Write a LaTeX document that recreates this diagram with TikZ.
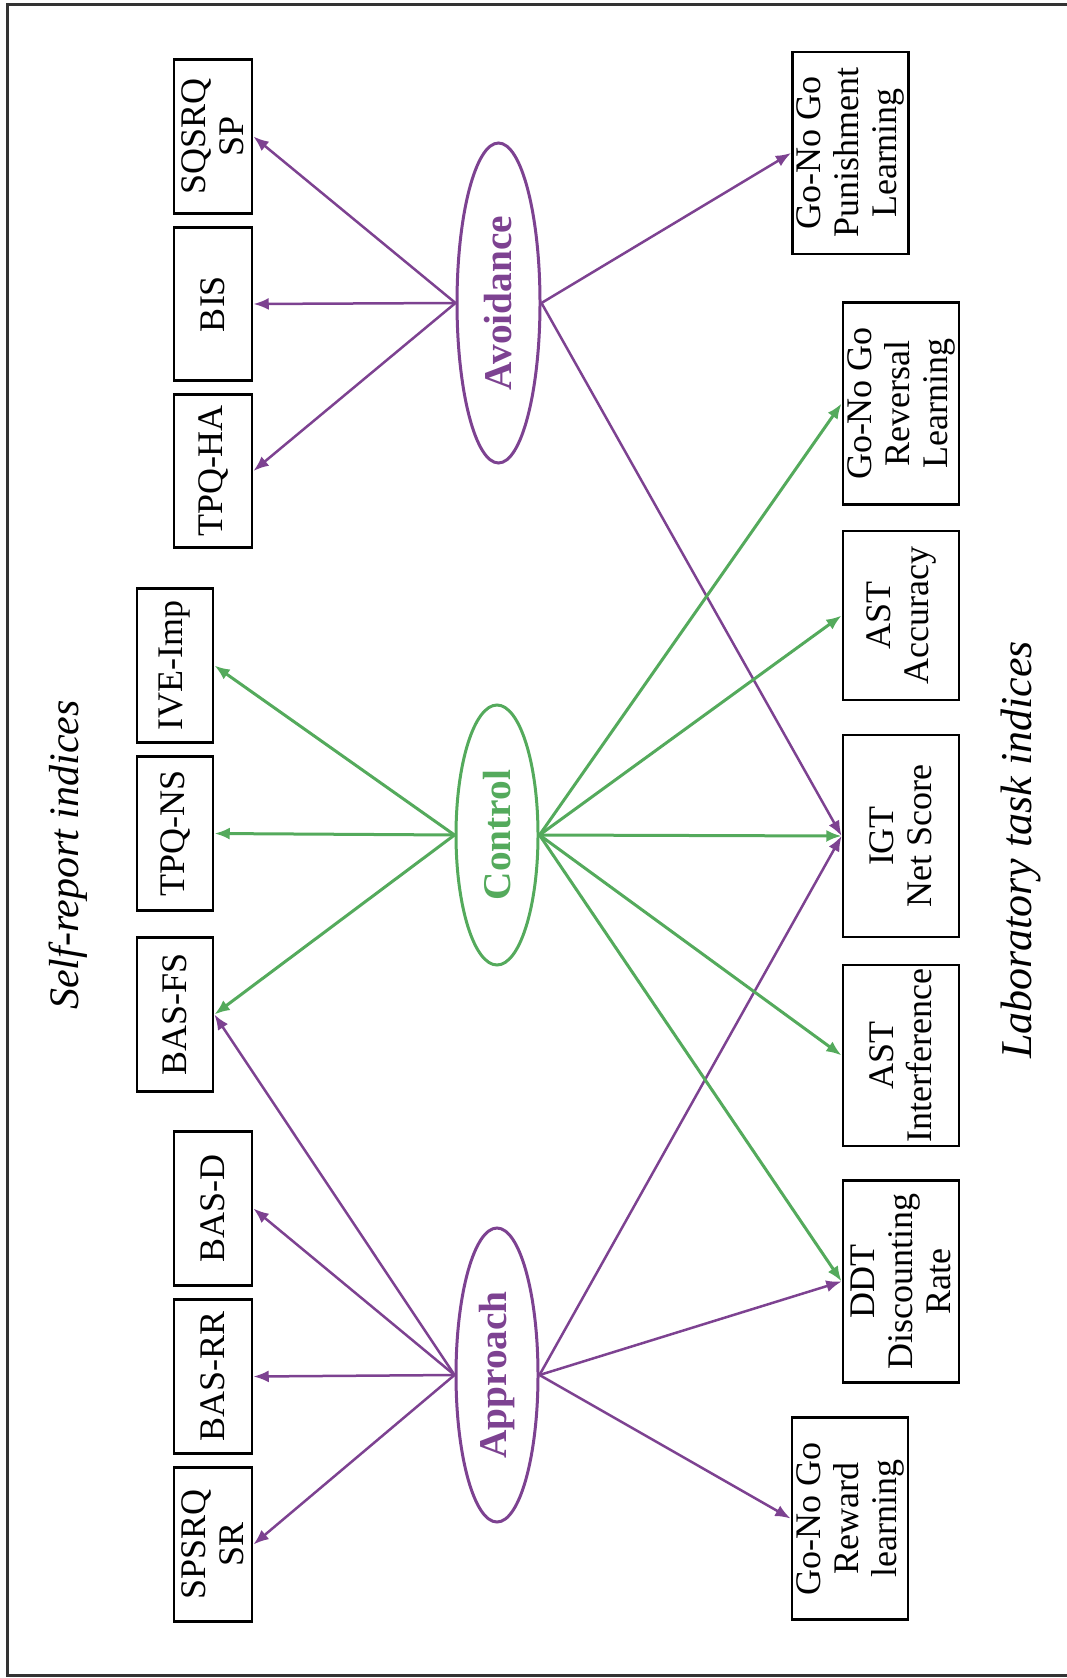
\documentclass[tikz,border=0pt]{standalone}
\usepackage{fontspec}
\setmainfont{Liberation Serif}
\usetikzlibrary{shapes.geometric,arrows.meta}

\definecolor{avpurple}{RGB}{125,66,145}
\definecolor{ctgreen}{RGB}{84,170,92}

\begin{document}
\begin{tikzpicture}[
    x=0.3pt, y=-0.3pt,
    every node/.style={rotate=90, inner sep=0pt, font=\fontsize{10.8}{11.4}\selectfont},
    idx/.style={draw=black, line width=0.85pt, align=center, minimum height=23.4pt, minimum width=46pt},
    task/.style={idx, minimum height=34.8pt, minimum width=60.6pt},
    factor/.style={ellipse, line width=0.9pt, minimum height=24.6pt, font=\fontsize{11.8}{13}\selectfont\bfseries},
    heading/.style={font=\fontsize{12.6}{14}\selectfont\itshape},
    purp/.style={draw=avpurple, line width=0.75pt, -{Latex[length=4.6pt,width=3.6pt]}},
    grn/.style={draw=ctgreen, line width=0.9pt, -{Latex[length=4.6pt,width=3.6pt]}}
]
\useasboundingbox (0,0) rectangle (1066,1678);
% outer frame, right side runs off the page
\draw[line width=0.9pt, draw=black!80] (7.5,4.5) rectangle (1080,1675.5);

% self-report side
\node[idx] (sqsp)  at (213,136.5)  {SQSRQ\\SP};
\node[idx] (bis)   at (213,304)    {BIS};
\node[idx] (tpqha) at (213,471)    {TPQ-HA};
\node[idx, minimum height=22.8pt] (iveimp) at (175,665.5)  {IVE-Imp};
\node[idx, minimum height=22.8pt] (tpqns)  at (175,833.5)  {TPQ-NS};
\node[idx, minimum height=22.8pt] (basfs)  at (175,1014.5) {BAS-FS};
\node[idx] (basd)  at (213,1208.5) {BAS-D};
\node[idx] (basrr) at (213,1376.5) {BAS-RR};
\node[idx] (spsr)  at (213,1544.5) {SPSRQ\\SR};

% laboratory side
\node[task] (gngpun) at (850.5,153) {Go-No Go\\Punishment\\Learning};
\node[task] (gngrev) at (901,403.5) {Go-No Go\\Reversal\\Learning};
\node[task, minimum width=50.7pt] (astacc) at (901,615.5) {AST\\Accuracy};
\node[task] (igt)    at (901,836)    {IGT\\Net Score};
\node[task, minimum width=54.3pt] (astint) at (901,1055.5) {AST\\Interference};
\node[task] (ddt)    at (901,1281.5) {DDT\\Discounting\\Rate};
\node[task] (gngrew) at (850,1518.5) {Go-No Go\\Reward\\learning};

% the three factors
\node[factor, draw=avpurple, text=avpurple, minimum width=96pt, minimum height=24.9pt] (avo) at (498.5,303) {Avoidance};
\node[factor, draw=ctgreen, text=ctgreen, minimum width=78pt] (ctl) at (497,835) {Control};
\node[factor, draw=avpurple, text=avpurple, minimum width=88.2pt] (app) at (497,1375) {Approach};

\node[heading] (selfrep) at (68,855)  {Self-report indices};
\node[heading, font=\fontsize{13.2}{15}\selectfont\itshape] (labtask) at (1021,850) {Laboratory task indices};

% avoidance
\foreach \t in {sqsp,bis,tpqha} \draw[purp] (avo.north) -- (\t.south);
\foreach \t in {gngpun,igt} \draw[purp] (avo.south) -- (\t.north);
% approach
\foreach \t in {basfs,basd,basrr,spsr} \draw[purp] (app.north) -- (\t.south);
\foreach \t in {igt,ddt,gngrew} \draw[purp] (app.south) -- (\t.north);
% control, drawn last so it sits on top
\foreach \t in {iveimp,tpqns,basfs} \draw[grn] (ctl.north) -- (\t.south);
\foreach \t in {gngrev,astacc,igt,astint,ddt} \draw[grn] (ctl.south) -- (\t.north);
\end{tikzpicture}
\end{document}
